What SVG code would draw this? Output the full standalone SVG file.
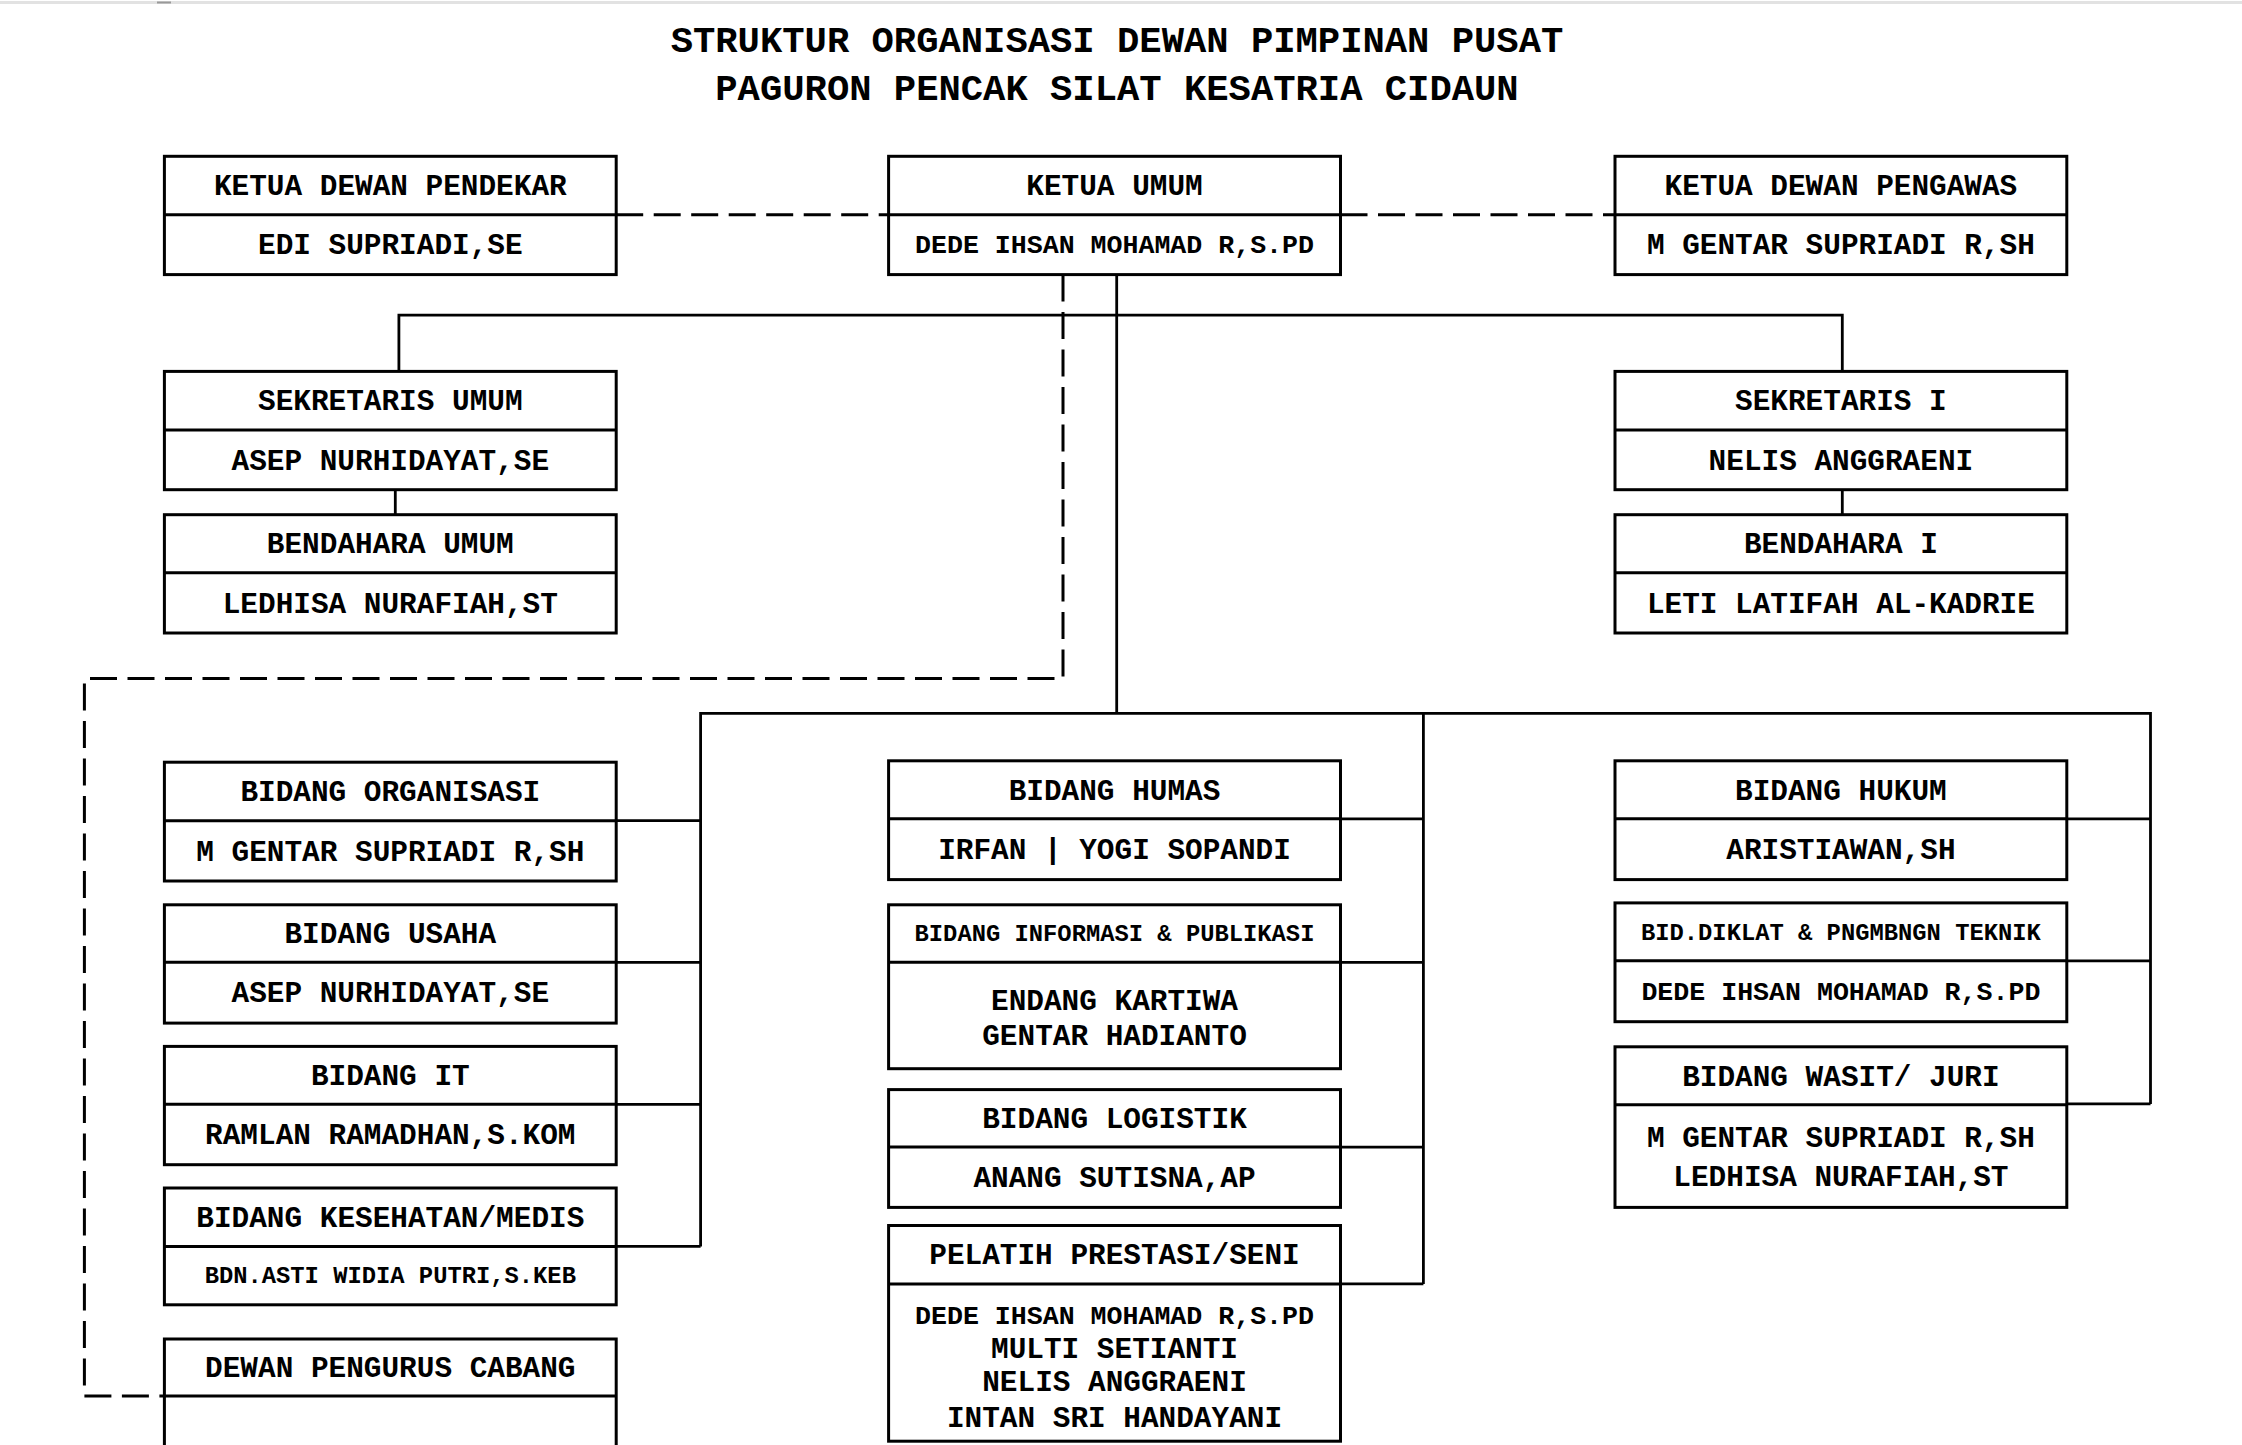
<svg xmlns="http://www.w3.org/2000/svg" width="2242" height="1445" viewBox="0 0 2242 1445">
<style>
  .box{fill:#fff;stroke:#000;stroke-width:3}
  .div{stroke:#000;stroke-width:3}
  .t{font-family:"Liberation Mono","DejaVu Sans Mono",monospace;font-weight:bold;font-size:29.4px;text-anchor:middle;fill:#000}
  .s{font-size:26.6px}
  .xs{font-size:23.8px}
  .title{font-size:37.2px}
  .c{fill:none;stroke:#000;stroke-width:2.8}
  .d{fill:none;stroke:#000;stroke-width:3;stroke-dasharray:27 10.5}
</style>
<rect width="2242" height="1445" fill="#fff"/>
<line x1="0" y1="2.5" x2="2242" y2="2.5" stroke="#e2e2e2" stroke-width="3"/>
<rect x="157" y="1.5" width="14" height="2" fill="#999"/>

<g id="title">
  <text class="t title" x="1117" y="52.2">STRUKTUR ORGANISASI DEWAN PIMPINAN PUSAT</text>
  <text class="t title" x="1117" y="100.4">PAGURON PENCAK SILAT KESATRIA CIDAUN</text>
</g>

<g id="connectors">
  <path class="d" d="M616.2 214.7H888.6"/>
  <path class="d" d="M1340.5 214.7H1615"/>
  <path class="d" d="M1063 274.6V678.6H84.4V1396H164.4"/>
  <path class="c" d="M1116.7 274.6V713.3"/>
  <path class="c" d="M398.9 371.4V315.2H1842.3V371.4"/>
  <path class="c" d="M395.3 489.7V514.7"/>
  <path class="c" d="M1842.3 489.7V514.7"/>
  <path class="c" d="M700.6 1246.4V713.3H2150.5V1103.9"/>
  <path class="c" d="M1423.4 713.3V1283.9"/>
  <path class="c" d="M616.2 820.7H700.6M616.2 962.3H700.6M616.2 1104.3H700.6M616.2 1246.4H700.6"/>
  <path class="c" d="M1340.5 818.8H1423.4M1340.5 962.3H1423.4M1340.5 1147.1H1423.4M1340.5 1283.9H1423.4"/>
  <path class="c" d="M2066.8 818.8H2150.5M2066.8 960.8H2150.5M2066.8 1103.9H2150.5"/>
</g>

<g id="ketua-dewan-pendekar">
  <rect class="box" x="164.4" y="156.3" width="451.8" height="118.3"/>
  <line class="div" x1="164.4" y1="214.7" x2="616.2" y2="214.7"/>
  <text class="t" x="390.3" y="195.2">KETUA DEWAN PENDEKAR</text>
  <text class="t" x="390.3" y="254.4">EDI SUPRIADI,SE</text>
</g>
<g id="ketua-umum">
  <rect class="box" x="888.6" y="156.3" width="451.9" height="118.3"/>
  <line class="div" x1="888.6" y1="214.7" x2="1340.5" y2="214.7"/>
  <text class="t" x="1114.5" y="195.2">KETUA UMUM</text>
  <text class="t s" x="1114.5" y="253.4">DEDE IHSAN MOHAMAD R,S.PD</text>
</g>
<g id="ketua-dewan-pengawas">
  <rect class="box" x="1615" y="156.3" width="451.8" height="118.3"/>
  <line class="div" x1="1615" y1="214.7" x2="2066.8" y2="214.7"/>
  <text class="t" x="1840.9" y="195.2">KETUA DEWAN PENGAWAS</text>
  <text class="t" x="1840.9" y="254.4">M GENTAR SUPRIADI R,SH</text>
</g>

<g id="sekretaris-umum">
  <rect class="box" x="164.4" y="371.4" width="451.8" height="118.3"/>
  <line class="div" x1="164.4" y1="429.9" x2="616.2" y2="429.9"/>
  <text class="t" x="390.3" y="410.3">SEKRETARIS UMUM</text>
  <text class="t" x="390.3" y="469.5">ASEP NURHIDAYAT,SE</text>
</g>
<g id="bendahara-umum">
  <rect class="box" x="164.4" y="514.7" width="451.8" height="118.3"/>
  <line class="div" x1="164.4" y1="572.8" x2="616.2" y2="572.8"/>
  <text class="t" x="390.3" y="553.4">BENDAHARA UMUM</text>
  <text class="t" x="390.3" y="612.6">LEDHISA NURAFIAH,ST</text>
</g>
<g id="sekretaris-i">
  <rect class="box" x="1615" y="371.4" width="451.8" height="118.3"/>
  <line class="div" x1="1615" y1="429.9" x2="2066.8" y2="429.9"/>
  <text class="t" x="1840.9" y="410.3">SEKRETARIS I</text>
  <text class="t" x="1840.9" y="469.5">NELIS ANGGRAENI</text>
</g>
<g id="bendahara-i">
  <rect class="box" x="1615" y="514.7" width="451.8" height="118.3"/>
  <line class="div" x1="1615" y1="572.8" x2="2066.8" y2="572.8"/>
  <text class="t" x="1840.9" y="553.4">BENDAHARA I</text>
  <text class="t" x="1840.9" y="612.6">LETI LATIFAH AL-KADRIE</text>
</g>

<g id="bidang-organisasi">
  <rect class="box" x="164.4" y="762.2" width="451.8" height="118.8"/>
  <line class="div" x1="164.4" y1="820.7" x2="616.2" y2="820.7"/>
  <text class="t" x="390.3" y="801.1">BIDANG ORGANISASI</text>
  <text class="t" x="390.3" y="860.5">M GENTAR SUPRIADI R,SH</text>
</g>
<g id="bidang-usaha">
  <rect class="box" x="164.4" y="904.8" width="451.8" height="118.3"/>
  <line class="div" x1="164.4" y1="962.3" x2="616.2" y2="962.3"/>
  <text class="t" x="390.3" y="943.2">BIDANG USAHA</text>
  <text class="t" x="390.3" y="1002.4">ASEP NURHIDAYAT,SE</text>
</g>
<g id="bidang-it">
  <rect class="box" x="164.4" y="1046.4" width="451.8" height="118.3"/>
  <line class="div" x1="164.4" y1="1104.3" x2="616.2" y2="1104.3"/>
  <text class="t" x="390.3" y="1085">BIDANG IT</text>
  <text class="t" x="390.3" y="1144.2">RAMLAN RAMADHAN,S.KOM</text>
</g>
<g id="bidang-kesehatan">
  <rect class="box" x="164.4" y="1188" width="451.8" height="116.8"/>
  <line class="div" x1="164.4" y1="1246.4" x2="616.2" y2="1246.4"/>
  <text class="t" x="390.3" y="1226.9">BIDANG KESEHATAN/MEDIS</text>
  <text class="t xs" x="390.3" y="1283.4">BDN.ASTI WIDIA PUTRI,S.KEB</text>
</g>
<g id="dewan-pengurus-cabang">
  <rect class="box" x="164.4" y="1339" width="451.8" height="130"/>
  <line class="div" x1="164.4" y1="1396" x2="616.2" y2="1396"/>
  <text class="t" x="390.3" y="1377.2">DEWAN PENGURUS CABANG</text>
</g>

<g id="bidang-humas">
  <rect class="box" x="888.6" y="760.8" width="451.9" height="118.8"/>
  <line class="div" x1="888.6" y1="818.8" x2="1340.5" y2="818.8"/>
  <text class="t" x="1114.5" y="799.5">BIDANG HUMAS</text>
  <text class="t" x="1114.5" y="858.9">IRFAN | YOGI SOPANDI</text>
</g>
<g id="bidang-informasi">
  <rect class="box" x="888.6" y="904.8" width="451.9" height="163.9"/>
  <line class="div" x1="888.6" y1="962.3" x2="1340.5" y2="962.3"/>
  <text class="t xs" x="1114.5" y="941.4">BIDANG INFORMASI &amp; PUBLIKASI</text>
  <text class="t" x="1114.5" y="1009.8">ENDANG KARTIWA</text>
  <text class="t" x="1114.5" y="1045.4">GENTAR HADIANTO</text>
</g>
<g id="bidang-logistik">
  <rect class="box" x="888.6" y="1089.6" width="451.9" height="117.8"/>
  <line class="div" x1="888.6" y1="1147.1" x2="1340.5" y2="1147.1"/>
  <text class="t" x="1114.5" y="1128">BIDANG LOGISTIK</text>
  <text class="t" x="1114.5" y="1187">ANANG SUTISNA,AP</text>
</g>
<g id="pelatih-prestasi">
  <rect class="box" x="888.6" y="1225.5" width="451.9" height="215.7"/>
  <line class="div" x1="888.6" y1="1283.9" x2="1340.5" y2="1283.9"/>
  <text class="t" x="1114.5" y="1264.4">PELATIH PRESTASI/SENI</text>
  <text class="t s" x="1114.5" y="1323.8">DEDE IHSAN MOHAMAD R,S.PD</text>
  <text class="t" x="1114.5" y="1358">MULTI SETIANTI</text>
  <text class="t" x="1114.5" y="1391.3">NELIS ANGGRAENI</text>
  <text class="t" x="1114.5" y="1427">INTAN SRI HANDAYANI</text>
</g>

<g id="bidang-hukum">
  <rect class="box" x="1615" y="760.8" width="451.8" height="118.8"/>
  <line class="div" x1="1615" y1="818.8" x2="2066.8" y2="818.8"/>
  <text class="t" x="1840.9" y="799.5">BIDANG HUKUM</text>
  <text class="t" x="1840.9" y="858.9">ARISTIAWAN,SH</text>
</g>
<g id="bidang-diklat">
  <rect class="box" x="1615" y="902.9" width="451.8" height="118.8"/>
  <line class="div" x1="1615" y1="960.8" x2="2066.8" y2="960.8"/>
  <text class="t xs" x="1840.9" y="939.7">BID.DIKLAT &amp; PNGMBNGN TEKNIK</text>
  <text class="t s" x="1840.9" y="1000.1">DEDE IHSAN MOHAMAD R,S.PD</text>
</g>
<g id="bidang-wasit">
  <rect class="box" x="1615" y="1046.8" width="451.8" height="160.6"/>
  <line class="div" x1="1615" y1="1104.8" x2="2066.8" y2="1104.8"/>
  <text class="t" x="1840.9" y="1085.5">BIDANG WASIT/ JURI</text>
  <text class="t" x="1840.9" y="1146.6">M GENTAR SUPRIADI R,SH</text>
  <text class="t" x="1840.9" y="1185.6">LEDHISA NURAFIAH,ST</text>
</g>
</svg>
